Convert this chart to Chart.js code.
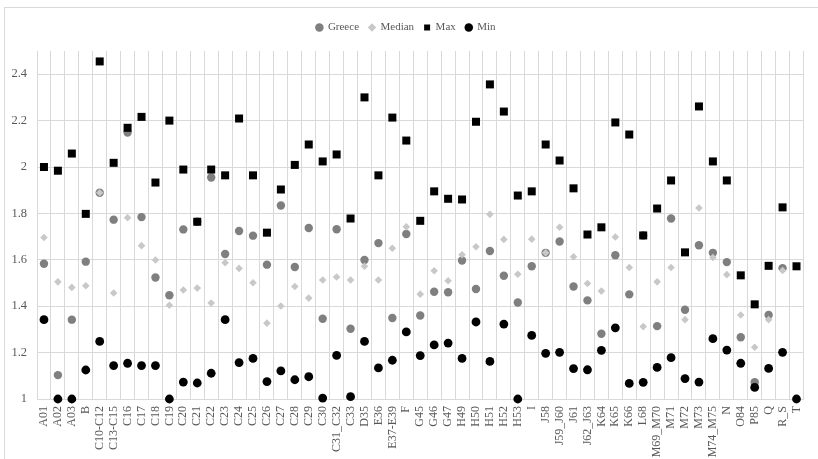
<!DOCTYPE html>
<html>
<head>
<meta charset="utf-8">
<script src="https://cdn.jsdelivr.net/npm/chart.js@4/dist/chart.umd.min.js"></script>
<style>
  html, body { margin: 0; padding: 0; background: #fff; overflow: hidden; }
  #frame { position: absolute; left: 4px; top: 7px; width: 900px; height: 900px; border: 1px solid #d9d9d9; box-sizing: border-box; }
  #wrap { position: absolute; left: 0; top: 0; width: 818px; height: 459px; }
</style>
</head>
<body>
<div id="frame"></div>
<div id="wrap"><canvas id="c" width="818" height="459"></canvas></div>
<script>
// Sector codes along the x axis
const categories = ['A01','A02','A03','B','C10-C12','C13-C15','C16','C17','C18','C19','C20','C21','C22','C23','C24','C25','C26','C27','C28','C29','C30','C31_C32','C33','D35','E36','E37-E39','F','G45','G46','G47','H49','H50','H51','H52','H53','I','J58','J59_J60','J61','J62_J63','K64','K65','K66','L68','M69_M70','M71','M72','M73','M74_M75','N','O84','P85','Q','R_S','T'];

const greece = [1.583,1.103,1.342,1.592,1.889,1.773,2.149,1.784,1.524,1.447,1.731,1.764,1.955,1.625,1.724,1.704,1.579,1.834,1.569,1.737,1.346,1.732,1.303,1.599,1.672,1.349,1.711,1.360,1.462,1.460,1.597,1.474,1.638,1.531,1.416,1.572,1.630,1.679,1.485,1.425,1.281,1.620,1.451,1.705,1.314,1.778,1.385,1.663,1.630,1.590,1.266,1.072,1.362,1.564,null];

const median = [1.696,1.505,1.481,1.488,1.889,1.457,1.781,1.661,1.599,1.404,1.470,1.478,1.414,1.587,1.563,1.501,1.327,1.401,1.485,1.435,1.513,1.526,1.513,1.572,1.513,1.650,1.742,1.452,1.553,1.510,1.622,1.656,1.796,1.688,1.538,1.689,1.630,1.740,1.613,1.498,1.465,1.698,1.567,1.312,1.505,1.567,1.342,1.823,1.610,1.536,1.362,1.223,1.342,1.554,null];

const maxVals = [2.000,1.984,2.058,1.798,2.455,2.018,2.169,2.216,1.933,2.200,1.989,1.764,1.989,1.964,2.209,1.964,1.717,1.903,2.009,2.097,2.024,2.054,1.778,2.300,1.964,2.213,2.114,1.768,1.895,1.863,1.860,2.195,2.356,2.239,1.877,1.895,2.097,2.028,1.908,1.709,1.740,2.192,2.140,1.705,1.821,1.942,1.632,2.261,2.024,1.942,1.533,1.408,1.574,1.826,1.572];

const minVals = [1.342,1.000,1.000,1.125,1.248,1.144,1.154,1.144,1.144,1.000,1.073,1.069,1.111,1.342,1.157,1.175,1.075,1.121,1.083,1.096,1.004,1.188,1.010,1.248,1.134,1.167,1.289,1.187,1.233,1.241,1.175,1.332,1.162,1.323,1.000,1.274,1.197,1.201,1.131,1.126,1.210,1.307,1.067,1.072,1.136,1.178,1.088,1.073,1.260,1.211,1.154,1.050,1.132,1.201,1.000];

const yTicks = [1, 1.2, 1.4, 1.6, 1.8, 2, 2.2, 2.4];

const serif = "'Liberation Serif', 'Times New Roman', serif";
const textColor = '#595959';
const gridColor = '#d9d9d9';

function series(label, data, style, radius, color, order) {
  return {
    label, data, order,
    showLine: false,
    clip: false,
    pointStyle: style,
    pointRadius: radius,
    pointHoverRadius: radius,
    pointBackgroundColor: color,
    pointBorderWidth: 0,
    backgroundColor: color,
    borderColor: color,
    borderWidth: 0
  };
}

// Extra room below the legend before the plot starts
const legendGap = {
  id: 'legendGap',
  beforeInit(chart) {
    const fit = chart.legend.fit;
    chart.legend.fit = function () { fit.call(this); this.height += 8; };
  }
};

new Chart(document.getElementById('c'), {
  type: 'line',
  data: {
    labels: categories,
    datasets: [
      series('Greece', greece, 'circle', 4.2, '#7f7f7f', 4),
      series('Median', median, 'rectRot', 3.8, '#c8c8c8', 3),
      series('Max', maxVals, 'rect', 5.66, '#000000', 2),
      series('Min', minVals, 'circle', 4.4, '#000000', 1)
    ]
  },
  plugins: [legendGap],
  options: {
    responsive: false,
    animation: false,
    layout: { padding: { left: 5, right: 11, top: 12, bottom: 0 } },
    plugins: {
      tooltip: { enabled: false },
      legend: {
        position: 'top',
        labels: {
          usePointStyle: true,
          boxWidth: 6,
          boxHeight: 6,
          padding: 10,
          color: textColor,
          font: { family: serif, size: 11 },
          sort: (a, b) => a.datasetIndex - b.datasetIndex
        }
      }
    },
    scales: {
      x: {
        type: 'category',
        offset: true,
        grid: { offset: true, color: gridColor, lineWidth: 1, drawTicks: false },
        border: { color: gridColor },
        ticks: {
          autoSkip: false,
          minRotation: 90,
          maxRotation: 90,
          padding: 7,
          color: textColor,
          font: { family: serif, size: 12 }
        },
        afterFit: s => { s.height = 60; }
      },
      y: {
        min: 1,
        max: 2.5,
        grid: { color: gridColor, lineWidth: 1, drawTicks: false },
        border: { display: false },
        afterBuildTicks: s => { s.ticks = yTicks.map(v => ({ value: v })); },
        ticks: {
          padding: 10,
          color: textColor,
          font: { family: serif, size: 12.5 },
          callback: v => String(+Number(v).toFixed(1))
        },
        afterFit: s => { s.width = 32; }
      }
    }
  }
});
</script>
</body>
</html>
